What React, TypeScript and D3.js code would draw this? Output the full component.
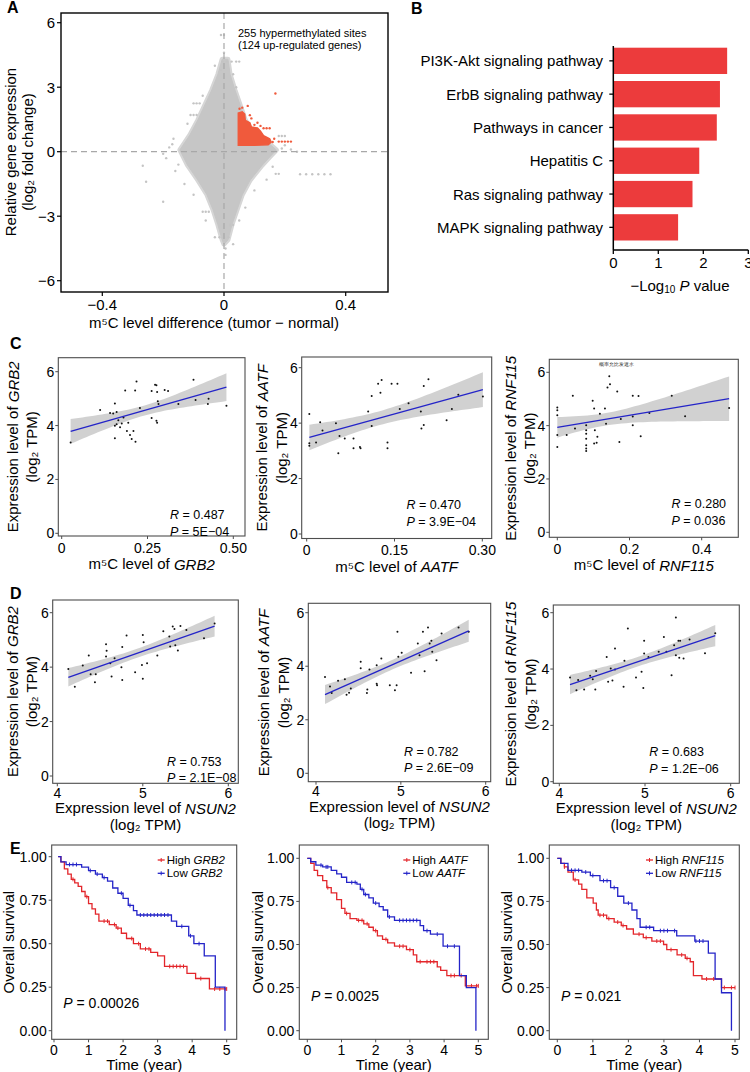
import React from "react";
import * as d3 from "d3";

const FONT = "'Liberation Sans', Arial, Helvetica, sans-serif";

// ---------------- Panel A data ----------------
const cloudOutline: [number, number][] = [
  [0.013, 4.3], [0.02, 3.6], [0.036, 2.87], [0.053, 2.17], [0.07, 1.47], [0.1, 0.78], [0.15, 0.35],
  [0.172, 0.08], [0.15, -0.25], [0.126, -0.62], [0.086, -1.32], [0.06, -2.0], [0.043, -2.7],
  [0.026, -3.4], [0.013, -4.1], [0.0, -4.3], [-0.006, -4.1], [-0.02, -3.4], [-0.036, -2.7],
  [-0.056, -2.0], [-0.086, -1.32], [-0.12, -0.62], [-0.145, 0.08], [-0.13, 0.4], [-0.112, 0.78],
  [-0.086, 1.47], [-0.063, 2.17], [-0.04, 2.87], [-0.02, 3.6], [-0.006, 4.3],
];
const cloudStrays: [number, number][] = [
  [-0.267, -0.65], [-0.256, -1.4], [-0.2, -2.33], [-0.166, 0.6], [-0.18, 0.2], [-0.19, -0.3], [-0.16, -0.9],
  [-0.13, -1.5], [-0.1, -2.0], [-0.1, 2.25], [-0.09, 2.25], [-0.08, 2.25], [-0.11, 1.71], [-0.1, 1.71],
  [-0.09, 1.71], [-0.07, -2.79], [-0.06, -2.79], [-0.05, -2.79], [-0.03, -3.98], [-0.015, -3.98],
  [0.0, -3.98], [0.015, -3.98], [0.03, -3.41], [0.02, -3.41], [-0.005, 4.19], [0.01, 4.19], [0.025, 4.19],
  [0.04, 4.19], [0.05, 4.19], [-0.01, 5.43], [0.0, 5.43], [0.0, 4.6], [0.005, -4.5], [0.005, -4.8],
  [0.18, 0.73], [0.19, 0.73], [0.2, 0.73], [0.25, -1.05], [0.27, -1.05], [0.29, -1.05], [0.31, -1.05],
  [0.33, -1.05], [0.35, -1.05], [0.17, -1.03], [0.18, -1.03], [0.2, 0.3], [0.22, 0.1], [0.24, 0.0],
  [0.14, -1.3], [0.1, -1.8], [0.07, -2.6], [0.05, -3.2], [0.03, -4.3], [-0.01, 3.8], [-0.12, 1.3],
  [-0.06, -3.2], [0.03, 3.6], [0.19, 0.15], [-0.2, -0.1], [-0.17, 0.35], [0.16, -0.7], [-0.15, -0.6],
  [-0.03, 4.0], [0.04, 3.0], [-0.07, 2.6],
];
const hyperBlock: [number, number][] = [
  [0.047, 0.3], [0.047, 1.8], [0.06, 1.85], [0.068, 1.75], [0.07, 1.45], [0.085, 1.35], [0.09, 1.15],
  [0.11, 1.1], [0.12, 0.95], [0.13, 0.75], [0.15, 0.6], [0.155, 0.45], [0.145, 0.32], [0.1, 0.3],
];
const hyperPoints: [number, number][] = [
  [0.051, 2.0], [0.078, 2.13], [0.06, 2.05], [0.16, 0.45], [0.18, 0.47], [0.19, 0.47], [0.2, 0.47],
  [0.21, 0.47], [0.22, 0.47], [0.169, 2.71], [0.13, 1.09], [0.14, 1.09], [0.15, 1.09], [0.12, 1.2],
  [0.1, 1.25], [0.09, 1.55], [0.085, 1.7], [0.11, 1.35], [0.165, 0.6],
];
const aXTicks = [-0.4, 0, 0.4];
const aXTickLabels = ["−0.4", "0", "0.4"];
const aYTicks = [-6, -3, 0, 3, 6];
const aYTickLabels = ["−6", "−3", "0", "3", "6"];

// ---------------- Panel B data ----------------
const pathways = [
  "PI3K-Akt signaling pathway",
  "ErbB signaling pathway",
  "Pathways in cancer",
  "Hepatitis C",
  "Ras signaling pathway",
  "MAPK signaling pathway",
];
const pathwayLogP = [2.53, 2.37, 2.3, 1.91, 1.76, 1.44];
const bTicks = [0, 1, 2, 3];

// ---------------- Panel C data ----------------
const grb2M5C: [number, number][] = [
  [0.026, 3.37], [0.112, 4.58], [0.141, 4.47], [0.15, 4.45], [0.155, 4.82], [0.16, 4.5], [0.165, 4.2],
  [0.155, 3.99], [0.155, 3.53], [0.17, 3.94], [0.175, 4.08], [0.18, 4.3], [0.19, 3.8], [0.194, 4.1],
  [0.199, 3.65], [0.185, 5.3], [0.204, 3.5], [0.209, 3.8], [0.214, 5.3], [0.218, 5.64], [0.228, 4.65],
  [0.215, 3.4], [0.262, 5.28], [0.262, 4.28], [0.272, 5.52], [0.276, 5.5], [0.278, 5.25], [0.28, 4.9],
  [0.282, 4.8], [0.276, 4.18], [0.278, 4.1], [0.3, 5.32], [0.31, 5.28], [0.34, 4.8], [0.384, 5.7],
  [0.39, 4.95], [0.428, 5.0], [0.426, 4.8], [0.48, 4.74], [0.16, 4.05],
];
const aatfM5C: [number, number][] = [
  [0.0045, 4.33], [0.0045, 3.27], [0.0045, 3.18], [0.016, 3.3], [0.023, 4.03], [0.027, 3.73], [0.05, 4.0],
  [0.056, 3.54], [0.054, 2.91], [0.065, 3.45], [0.08, 3.45], [0.08, 3.09], [0.091, 3.14], [0.092, 3.09],
  [0.105, 4.42], [0.111, 4.98], [0.111, 3.9], [0.122, 5.42], [0.126, 5.1], [0.128, 5.56], [0.138, 3.3],
  [0.138, 3.09], [0.145, 5.42], [0.155, 5.42], [0.159, 4.51], [0.174, 4.72], [0.195, 4.42], [0.196, 3.81],
  [0.2, 3.93], [0.2, 5.34], [0.208, 5.58], [0.239, 4.1], [0.248, 4.51], [0.259, 5.02], [0.301, 4.96],
];
const rnf115M5C: [number, number][] = [
  [0, 4.68], [0, 4.58], [0, 4.39], [0, 3.65], [0, 3.2], [0.026, 3.65], [0.043, 5.12], [0.049, 3.89],
  [0.08, 4.01], [0.08, 3.83], [0.08, 3.7], [0.08, 3.51], [0.08, 3.26], [0.08, 3.14], [0.08, 3.05],
  [0.098, 4.93], [0.102, 4.64], [0.102, 3.33], [0.104, 3.83], [0.109, 3.36], [0.111, 3.58], [0.118, 4.45],
  [0.132, 4.64], [0.135, 4.07], [0.139, 5.43], [0.144, 5.85], [0.146, 5.55], [0.166, 5.28], [0.172, 3.39],
  [0.176, 4.25], [0.209, 5.12], [0.209, 4.34], [0.209, 4.01], [0.225, 5.11], [0.231, 3.6], [0.255, 4.47],
  [0.317, 5.12], [0.354, 4.35], [0.476, 4.66],
];

// ---------------- Panel D data ----------------
const grb2Nsun2: [number, number][] = [
  [4.129, 3.93], [4.205, 3.28], [4.298, 4.06], [4.368, 4.43], [4.39, 3.74], [4.45, 3.74], [4.44, 3.44],
  [4.57, 4.84], [4.577, 4.6], [4.57, 4.39], [4.62, 4.14], [4.635, 3.66], [4.67, 4.33], [4.75, 4.0],
  [4.76, 4.74], [4.76, 3.53], [4.81, 5.16], [4.91, 3.81], [4.99, 4.08], [5.0, 3.57], [5.0, 5.18],
  [5.01, 4.91], [5.05, 4.14], [5.17, 4.43], [5.24, 5.32], [5.31, 5.13], [5.32, 4.76], [5.35, 5.49],
  [5.37, 5.4], [5.38, 4.8], [5.41, 4.61], [5.44, 5.51], [5.51, 5.36], [5.716, 5.06], [5.84, 5.6],
];
const aatfNsun2: [number, number][] = [
  [4.106, 3.6], [4.165, 3.24], [4.185, 3.0], [4.26, 3.46], [4.34, 3.51], [4.36, 2.93], [4.39, 3.01],
  [4.41, 3.17], [4.527, 4.17], [4.527, 3.92], [4.6, 3.0], [4.605, 3.13], [4.63, 3.88], [4.715, 4.04],
  [4.715, 3.35], [4.72, 3.29], [4.77, 4.29], [4.87, 3.29], [4.93, 3.1], [4.95, 3.29], [4.96, 5.29],
  [4.97, 4.35], [5.01, 4.5], [5.12, 3.76], [5.2, 4.85], [5.22, 4.41], [5.26, 5.29], [5.28, 3.81],
  [5.32, 5.45], [5.34, 4.85], [5.36, 4.95], [5.37, 4.54], [5.42, 4.22], [5.48, 5.22], [5.68, 5.45],
  [5.8, 5.29],
];
const rnf115Nsun2: [number, number][] = [
  [4.125, 3.7], [4.2, 3.25], [4.22, 3.61], [4.29, 3.27], [4.36, 3.76], [4.39, 3.64], [4.43, 3.93],
  [4.42, 3.27], [4.553, 4.43], [4.57, 3.55], [4.6, 4.02], [4.62, 3.59], [4.65, 3.98], [4.65, 4.73],
  [4.75, 3.37], [4.76, 4.29], [4.8, 5.44], [4.895, 3.7], [4.96, 3.9], [4.98, 3.33], [4.99, 5.0],
  [4.99, 4.55], [5.04, 4.43], [5.16, 4.61], [5.22, 5.14], [5.25, 4.61], [5.31, 3.78], [5.34, 4.84],
  [5.36, 5.83], [5.36, 4.49], [5.39, 5.0], [5.41, 5.0], [5.4, 4.4], [5.45, 4.37], [5.52, 5.05],
  [5.7, 4.56], [5.82, 5.27],
];
const corrYTicks = [0, 2, 4, 6];
const nsunXTicks = [4, 5, 6];

// ---------------- Panel E data ----------------
const grb2High: [number, number][] = [
  [0.12, 1.0], [0.2, 0.97], [0.3, 0.93], [0.4, 0.9], [0.5, 0.87], [0.6, 0.85], [0.7, 0.83], [0.8, 0.8],
  [0.9, 0.77], [1.0, 0.73], [1.1, 0.7], [1.2, 0.67], [1.3, 0.63], [1.6, 0.61], [1.8, 0.59], [1.95, 0.56],
  [2.1, 0.53], [2.3, 0.5], [2.5, 0.47], [2.8, 0.45], [3.0, 0.43], [3.2, 0.37], [3.85, 0.33], [4.1, 0.3],
  [4.5, 0.24], [5.0, 0.24],
];
const grb2Low: [number, number][] = [
  [0.12, 1.0], [0.2, 0.97], [0.35, 0.955], [0.8, 0.94], [1.0, 0.92], [1.2, 0.9], [1.4, 0.88], [1.55, 0.86],
  [1.7, 0.82], [1.85, 0.79], [2.0, 0.76], [2.15, 0.72], [2.3, 0.69], [2.4, 0.665], [3.4, 0.63],
  [3.55, 0.6], [3.9, 0.545], [4.05, 0.5], [4.35, 0.43], [4.67, 0.25], [4.95, 0.0],
];
const aatfHigh: [number, number][] = [
  [0, 1], [0.1, 0.97], [0.2, 0.93], [0.3, 0.9], [0.45, 0.87], [0.57, 0.83], [0.7, 0.8], [0.86, 0.76],
  [1.0, 0.71], [1.1, 0.68], [1.25, 0.65], [1.45, 0.64], [1.65, 0.62], [1.8, 0.6], [1.93, 0.58],
  [2.05, 0.55], [2.2, 0.53], [2.35, 0.51], [2.55, 0.49], [2.9, 0.47], [3.1, 0.44], [3.2, 0.4],
  [3.8, 0.37], [3.9, 0.35], [4.08, 0.32], [4.62, 0.26], [5.0, 0.26],
];
const aatfLow: [number, number][] = [
  [0, 1], [0.1, 0.98], [0.25, 0.96], [0.45, 0.95], [0.7, 0.93], [0.86, 0.91], [1.0, 0.89], [1.15, 0.86],
  [1.45, 0.85], [1.55, 0.82], [1.65, 0.79], [1.8, 0.77], [1.93, 0.74], [2.1, 0.72], [2.22, 0.7],
  [2.35, 0.66], [2.55, 0.64], [3.3, 0.61], [3.4, 0.58], [3.6, 0.56], [3.97, 0.49], [4.45, 0.32],
  [4.65, 0.25], [4.93, 0.0],
];
const rnfHigh: [number, number][] = [
  [0, 1], [0.1, 0.97], [0.2, 0.95], [0.3, 0.92], [0.45, 0.875], [0.6, 0.85], [0.69, 0.82], [0.83, 0.77],
  [1.01, 0.74], [1.1, 0.7], [1.15, 0.67], [1.39, 0.65], [1.6, 0.63], [1.8, 0.61], [1.95, 0.59],
  [2.14, 0.56], [2.42, 0.54], [2.66, 0.52], [2.99, 0.5], [3.08, 0.47], [3.37, 0.44], [3.6, 0.42],
  [3.74, 0.4], [3.83, 0.32], [4.07, 0.3], [4.62, 0.25], [5.0, 0.25],
];
const rnfLow: [number, number][] = [
  [0, 1], [0.1, 0.97], [0.3, 0.93], [0.69, 0.92], [0.93, 0.9], [1.2, 0.87], [1.5, 0.83], [1.7, 0.78],
  [1.87, 0.74], [2.1, 0.7], [2.24, 0.65], [2.33, 0.6], [2.71, 0.58], [3.36, 0.55], [3.87, 0.52],
  [4.25, 0.45], [4.44, 0.3], [4.62, 0.22], [4.9, 0.0],
];
const grb2HighCens = [0.55, 0.95, 1.45, 1.55, 1.75, 1.85, 2.25, 2.45, 2.65, 2.75, 3.35, 3.45, 3.55, 3.65, 3.75, 4.25, 4.65, 4.8, 4.95, 5.0];
const grb2LowCens = [0.45, 0.55, 0.65, 1.05, 1.25, 1.45, 1.95, 2.2, 2.5, 2.6, 2.7, 2.8, 2.9, 3.0, 3.1, 3.2, 3.3, 3.7, 3.95, 4.2];
const aatfHighCens = [0.6, 1.15, 1.5, 1.6, 1.75, 2.0, 2.3, 2.7, 2.8, 3.0, 3.3, 3.5, 3.6, 3.7, 4.2, 4.3, 4.5, 4.8, 4.95, 5.0];
const aatfLowCens = [0.4, 0.55, 0.6, 1.3, 1.4, 1.6, 1.7, 2.0, 2.4, 2.7, 2.8, 2.9, 3.0, 3.1, 3.2, 3.5, 3.8, 4.1, 4.3];
const rnfHighCens = [0.2, 0.5, 1.2, 1.3, 1.45, 1.7, 1.85, 2.3, 2.5, 2.8, 2.9, 3.2, 3.5, 3.65, 4.2, 4.4, 4.7, 4.9, 5.0];
const rnfLowCens = [0.4, 0.5, 0.6, 0.8, 1.0, 1.3, 1.4, 1.6, 2.0, 2.5, 2.6, 2.9, 3.0, 3.1, 3.3, 3.9, 4.0, 4.1];
const kmXTicks = [0, 1, 2, 3, 4, 5];
const kmYTicks = [0, 0.25, 0.5, 0.75, 1];
const kmYLabels = ["0.00", "0.25", "0.50", "0.75", "1.00"];

const RED = "#E3262B";
const BLUE = "#2424C8";
const AXIS = "#4D4D4D";

// ---------------- Panel configs ----------------
const scatterPanels = [
  { gene: "GRB2", kind: "m5c", box: [58.3, 357.7, 245, 536], xd: [0, 0.5], xr: [61.7, 233.3], yr: [533.3, 371.7],
    xticks: [0, 0.25, 0.5], xlabels: ["0", "0.25", "0.50"], yl1: 12.7, yl2: 31.7, rpX: 170, rpY: 515, R: "0.487", P: "5E−04", pts: grb2M5C },
  { gene: "AATF", kind: "m5c", box: [301.7, 357, 491.7, 538.5], xd: [0, 0.3], xr: [306.7, 482.3], yr: [534, 367.7],
    xticks: [0, 0.15, 0.3], xlabels: ["0", "0.15", "0.30"], yl1: 261.7, yl2: 281.7, rpX: 406.5, rpY: 505, R: "0.470", P: "3.9E−04", pts: aatfM5C },
  { gene: "RNF115", kind: "m5c", box: [549.3, 359.3, 738.3, 537.3], xd: [0, 0.4], xr: [557.3, 701.7], yr: [532.3, 372.3],
    xticks: [0, 0.2, 0.4], xlabels: ["0", "0.2", "0.4"], yl1: 510, yl2: 529.3, rpX: 671.5, rpY: 504, R: "0.280", P: "0.036", pts: rnf115M5C },
  { gene: "GRB2", kind: "nsun2", box: [52.7, 600, 238.3, 783.3], xd: [4, 6], xr: [57.3, 228.3], yr: [776, 612.7],
    xticks: nsunXTicks, xlabels: ["4", "5", "6"], yl1: 12.2, yl2: 31.7, rpX: 167, rpY: 761.7, R: "0.753", P: "2.1E−08", pts: grb2Nsun2 },
  { gene: "AATF", kind: "nsun2", box: [308.3, 603.3, 490.7, 781.7], xd: [4, 6], xr: [316, 485.7], yr: [773.3, 612.7],
    xticks: nsunXTicks, xlabels: ["4", "5", "6"], yl1: 263.3, yl2: 283.3, rpX: 404, rpY: 751.7, R: "0.782", P: "2.6E−09", pts: aatfNsun2 },
  { gene: "RNF115", kind: "nsun2", box: [553.3, 605, 739.3, 783.3], xd: [4, 6], xr: [559.3, 730.7], yr: [781.7, 612.7],
    xticks: nsunXTicks, xlabels: ["4", "5", "6"], yl1: 510, yl2: 530, rpX: 649.3, rpY: 752.3, R: "0.683", P: "1.2E−06", pts: rnf115Nsun2 },
];

const kmPanels = [
  { gene: "GRB2", box: [51.7, 845, 236.7, 1039.3], xr: [54, 226.7], yr: [1030.7, 856.7], ylX: 8, legX: 166.7, legY: 860, pX: 63.3, pY: 1003, P: "0.00026",
    high: grb2High, low: grb2Low, highC: grb2HighCens, lowC: grb2LowCens },
  { gene: "AATF", box: [299.3, 845, 488.3, 1039.3], xr: [307.3, 478.3], yr: [1030.7, 858.3], ylX: 257, legX: 412.3, legY: 860, pX: 311, pY: 996, P: "0.0025",
    high: aatfHigh, low: aatfLow, highC: aatfHighCens, lowC: aatfLowCens },
  { gene: "RNF115", box: [549.3, 845, 739.3, 1039.3], xr: [557.3, 735], yr: [1030.7, 858.3], ylX: 506, legX: 655, legY: 860, pX: 561, pY: 996, P: "0.021",
    high: rnfHigh, low: rnfLow, highC: rnfHighCens, lowC: rnfLowCens },
];

// ---------------- Components ----------------
function PanelA() {
  const box = [61, 13, 388, 292];
  const x = d3.scaleLinear().domain([-0.4, 0.4]).range([102.3, 345.7]);
  const y = d3.scaleLinear().domain([-6, 6]).range([280.7, 22.7]);
  const polyLin = d3.line<[number, number]>().x((d) => x(d[0])).y((d) => y(d[1])).curve(d3.curveLinearClosed);
  return (
    <g fontFamily={FONT}>
      <text x={7} y={7} fontSize={16} fontWeight="bold" dominantBaseline="central">A</text>
      <path d={polyLin(cloudOutline) || ""} fill="#D2D2D2" stroke="#D6D6D6" strokeWidth={5} strokeLinejoin="round" />
      <path d={polyLin(cloudOutline) || ""} fill="#C6C6C6" stroke="#C6C6C6" strokeWidth={1} strokeLinejoin="round" />
      {cloudStrays.map((d, i) => (
        <circle key={i} cx={x(d[0])} cy={y(d[1])} r={1.2} fill="#C4C4C4" />
      ))}
      <path d={polyLin(hyperBlock) || ""} fill="#F05A3C" stroke="#F05A3C" strokeWidth={1.5} />
      {hyperPoints.map((d, i) => (
        <circle key={i} cx={x(d[0])} cy={y(d[1])} r={1.2} fill="#F05A3C" />
      ))}
      <line x1={x(0)} x2={x(0)} y1={box[1]} y2={box[3]} stroke="#A8A8A8" strokeDasharray="6,4" strokeWidth={1.2} />
      <line x1={box[0]} x2={box[2]} y1={y(0)} y2={y(0)} stroke="#A8A8A8" strokeDasharray="6,4" strokeWidth={1.2} />
      <rect x={box[0]} y={box[1]} width={box[2] - box[0]} height={box[3] - box[1]} fill="none" stroke="#000" strokeWidth={1.4} />
      {aYTicks.map((t, i) => (
        <g key={t}>
          <line x1={box[0] - 4} x2={box[0]} y1={y(t)} y2={y(t)} stroke="#000" strokeWidth={1.2} />
          <text x={box[0] - 6} y={y(t)} fontSize={15} textAnchor="end" dominantBaseline="central">{aYTickLabels[i]}</text>
        </g>
      ))}
      {aXTicks.map((t, i) => (
        <g key={t}>
          <line x1={x(t)} x2={x(t)} y1={box[3]} y2={box[3] + 4} stroke="#000" strokeWidth={1.2} />
          <text x={x(t)} y={304} fontSize={15} textAnchor="middle" dominantBaseline="central">{aXTickLabels[i]}</text>
        </g>
      ))}
      <text x={214} y={322} fontSize={15} textAnchor="middle" dominantBaseline="central">m⁵C level difference (tumor − normal)</text>
      <text transform="translate(10,152) rotate(-90)" fontSize={15} textAnchor="middle" dominantBaseline="central">Relative gene expression</text>
      <text transform="translate(27.5,152) rotate(-90)" fontSize={15} textAnchor="middle" dominantBaseline="central">(log₂ fold change)</text>
      <text x={238} y={33} fontSize={11} dominantBaseline="central">255 hypermethylated sites</text>
      <text x={238} y={45} fontSize={11} dominantBaseline="central">(124 up-regulated genes)</text>
    </g>
  );
}

function PanelB() {
  const x = d3.scaleLinear().domain([0, 3]).range([613.3, 748.3]);
  const yb = d3.scaleBand().domain(pathways).range([46.7, 241.5]).paddingInner(0.21).paddingOuter(0.03);
  return (
    <g fontFamily={FONT}>
      <text x={411} y={8} fontSize={16} fontWeight="bold" dominantBaseline="central">B</text>
      {pathways.map((p, i) => (
        <g key={p}>
          <rect x={x(0)} y={yb(p)!} width={x(pathwayLogP[i]) - x(0)} height={yb.bandwidth()} fill="#EC3B3C" />
          <line x1={x(0) - 4} x2={x(0)} y1={yb(p)! + yb.bandwidth() / 2} y2={yb(p)! + yb.bandwidth() / 2} stroke="#000" strokeWidth={1.3} />
          <text x={603} y={yb(p)! + yb.bandwidth() / 2} fontSize={15} textAnchor="end" dominantBaseline="central">{p}</text>
        </g>
      ))}
      <line x1={x(0)} x2={x(0)} y1={46} y2={250} stroke="#000" strokeWidth={1.5} />
      <line x1={x(0)} x2={x(3)} y1={250} y2={250} stroke="#000" strokeWidth={1.5} />
      {bTicks.map((t) => (
        <g key={t}>
          <line x1={x(t)} x2={x(t)} y1={250} y2={254} stroke="#000" strokeWidth={1.3} />
          <text x={x(t)} y={262} fontSize={15} textAnchor="middle" dominantBaseline="central">{t}</text>
        </g>
      ))}
      <text x={680} y={285} fontSize={15} textAnchor="middle" dominantBaseline="central">
        −Log<tspan fontSize={10} dy={4}>10</tspan><tspan dy={-4}> </tspan><tspan fontStyle="italic">P</tspan> value
      </text>
    </g>
  );
}

function Scatter({ p }: { p: any }) {
  const [bx0, by0, bx1, by1] = p.box;
  const x = d3.scaleLinear().domain(p.xd).range(p.xr);
  const y = d3.scaleLinear().domain([0, 6]).range(p.yr);
  const pts: [number, number][] = p.pts;
  const n = pts.length;
  const mx = d3.mean(pts, (d) => d[0])!;
  const my = d3.mean(pts, (d) => d[1])!;
  const sxx = d3.sum(pts, (d) => (d[0] - mx) ** 2);
  const sxy = d3.sum(pts, (d) => (d[0] - mx) * (d[1] - my));
  const b = sxy / sxx;
  const a = my - b * mx;
  const sse = d3.sum(pts, (d) => (d[1] - a - b * d[0]) ** 2);
  const s = Math.sqrt(sse / (n - 2));
  const tq = 2.03;
  const [xmin, xmax] = d3.extent(pts, (d) => d[0]) as [number, number];
  const grid = d3.range(0, 41).map((i) => xmin + ((xmax - xmin) * i) / 40);
  const band = grid.map((gx) => {
    const se = s * Math.sqrt(1 / n + (gx - mx) ** 2 / sxx);
    const f = a + b * gx;
    return [gx, f - tq * se, f + tq * se];
  });
  const area = d3.area<number[]>().x((d) => x(d[0])).y0((d) => y(d[1])).y1((d) => y(d[2]));
  const cx = (bx0 + bx1) / 2;
  const cy = (by0 + by1) / 2;
  const it = (g: string) => <tspan fontStyle="italic">{g}</tspan>;
  return (
    <g fontFamily={FONT}>
      <path d={area(band) || ""} fill="#C9C9C9" opacity={0.85} />
      {pts.map((d, i) => (
        <circle key={i} cx={x(d[0])} cy={y(d[1])} r={1} fill="#111" />
      ))}
      <line x1={x(xmin)} x2={x(xmax)} y1={y(a + b * xmin)} y2={y(a + b * xmax)} stroke={BLUE} strokeWidth={1.3} />
      <rect x={bx0} y={by0} width={bx1 - bx0} height={by1 - by0} fill="none" stroke={AXIS} strokeWidth={1.1} />
      {corrYTicks.map((t) => (
        <g key={t}>
          <line x1={bx0 - 3} x2={bx0} y1={y(t)} y2={y(t)} stroke={AXIS} strokeWidth={1} />
          <text x={bx0 - 4} y={y(t)} fontSize={14} textAnchor="end" dominantBaseline="central">{t}</text>
        </g>
      ))}
      {p.xticks.map((t: number, i: number) => (
        <g key={t}>
          <line x1={x(t)} x2={x(t)} y1={by1} y2={by1 + 3} stroke={AXIS} strokeWidth={1} />
          <text x={x(t)} y={by1 + (p.kind === "m5c" ? 11.5 : 9.5)} fontSize={14} textAnchor="middle" dominantBaseline="central">{p.xlabels[i]}</text>
        </g>
      ))}
      {p.kind === "m5c" ? (
        <text x={cx} y={by1 + 27.5} fontSize={15} textAnchor="middle" dominantBaseline="central">m⁵C level of {it(p.gene)}</text>
      ) : (
        <>
          <text x={cx} y={by1 + 24.5} fontSize={15} textAnchor="middle" dominantBaseline="central">Expression level of {it("NSUN2")}</text>
          <text x={cx} y={by1 + 41} fontSize={15} textAnchor="middle" dominantBaseline="central">(log₂ TPM)</text>
        </>
      )}
      <text transform={`translate(${p.yl1},${cy}) rotate(-90)`} fontSize={15} textAnchor="middle" dominantBaseline="central">Expression level of {it(p.gene)}</text>
      <text transform={`translate(${p.yl2},${cy}) rotate(-90)`} fontSize={15} textAnchor="middle" dominantBaseline="central">(log₂ TPM)</text>
      <text x={p.rpX} y={p.rpY} fontSize={12.5} dominantBaseline="central">{it("R")} = {p.R}</text>
      <text x={p.rpX} y={p.rpY + 16.5} fontSize={12.5} dominantBaseline="central">{it("P")} = {p.P}</text>
    </g>
  );
}

function KM({ p }: { p: any }) {
  const [bx0, by0, bx1, by1] = p.box;
  const x = d3.scaleLinear().domain([0, 5]).range(p.xr);
  const y = d3.scaleLinear().domain([0, 1]).range(p.yr);
  const line = d3.line<[number, number]>().x((d) => x(d[0])).y((d) => y(d[1])).curve(d3.curveStepAfter);
  const stepAt = (curve: [number, number][], t: number) => {
    let v = curve[0][1];
    for (const c of curve) if (c[0] <= t) v = c[1];
    return v;
  };
  const cy = (by0 + by1) / 2;
  const it = (g: string) => <tspan fontStyle="italic">{g}</tspan>;
  const curves = [
    { d: p.high, c: p.highC, col: RED },
    { d: p.low, c: p.lowC, col: BLUE },
  ];
  return (
    <g fontFamily={FONT}>
      {curves.map((cv, k) => (
        <g key={k}>
          <path d={line(cv.d) || ""} fill="none" stroke={cv.col} strokeWidth={1.3} />
          {cv.c.map((t: number, i: number) => (
            <line key={i} x1={x(t)} x2={x(t)} y1={y(stepAt(cv.d, t)) - 2} y2={y(stepAt(cv.d, t)) + 2} stroke={cv.col} strokeWidth={1} />
          ))}
        </g>
      ))}
      <rect x={bx0} y={by0} width={bx1 - bx0} height={by1 - by0} fill="none" stroke={AXIS} strokeWidth={1.1} />
      {kmYTicks.map((t, i) => (
        <g key={t}>
          <line x1={bx0 - 3} x2={bx0} y1={y(t)} y2={y(t)} stroke={AXIS} strokeWidth={1} />
          <text x={bx0 - 5} y={y(t)} fontSize={14} textAnchor="end" dominantBaseline="central">{kmYLabels[i]}</text>
        </g>
      ))}
      {kmXTicks.map((t) => (
        <g key={t}>
          <line x1={x(t)} x2={x(t)} y1={by1} y2={by1 + 3} stroke={AXIS} strokeWidth={1} />
          <text x={x(t)} y={by1 + 10.5} fontSize={14} textAnchor="middle" dominantBaseline="central">{t}</text>
        </g>
      ))}
      <text x={(bx0 + bx1) / 2} y={by1 + 25.5} fontSize={15} textAnchor="middle" dominantBaseline="central">Time (year)</text>
      <text transform={`translate(${p.ylX},${cy}) rotate(-90)`} fontSize={15} textAnchor="middle" dominantBaseline="central">Overall survival</text>
      {[{ lab: "High", col: RED }, { lab: "Low", col: BLUE }].map((l, i) => (
        <g key={l.lab}>
          <line x1={p.legX - 9} x2={p.legX - 2} y1={p.legY + i * 13.3} y2={p.legY + i * 13.3} stroke={l.col} strokeWidth={1.3} />
          <line x1={p.legX - 5.5} x2={p.legX - 5.5} y1={p.legY + i * 13.3 - 2} y2={p.legY + i * 13.3 + 2} stroke={l.col} strokeWidth={1} />
          <text x={p.legX} y={p.legY + i * 13.3} fontSize={11.5} dominantBaseline="central">{l.lab} {it(p.gene)}</text>
        </g>
      ))}
      <text x={p.pX} y={p.pY} fontSize={14} dominantBaseline="central">{it("P")} = {p.P}</text>
    </g>
  );
}

export default function App() {
  return (
    <svg width={750} height={1072} viewBox="0 0 750 1072" style={{ position: "absolute", left: 0, top: 0, background: "#fff" }}>
      <rect x={0} y={0} width={750} height={1072} fill="#fff" />
      <PanelA />
      <PanelB />
      <g fontFamily={FONT}>
        <text x={10} y={343} fontSize={16} fontWeight="bold" dominantBaseline="central">C</text>
        <text x={10} y={593} fontSize={16} fontWeight="bold" dominantBaseline="central">D</text>
        <text x={10} y={848} fontSize={16} fontWeight="bold" dominantBaseline="central">E</text>
        <text x={616.7} y={364.3} fontSize={4.5} textAnchor="middle" dominantBaseline="central" fill="#333">概率允比发返水</text>
      </g>
      {scatterPanels.map((p, i) => (
        <Scatter key={i} p={p} />
      ))}
      {kmPanels.map((p, i) => (
        <KM key={i} p={p} />
      ))}
    </svg>
  );
}
